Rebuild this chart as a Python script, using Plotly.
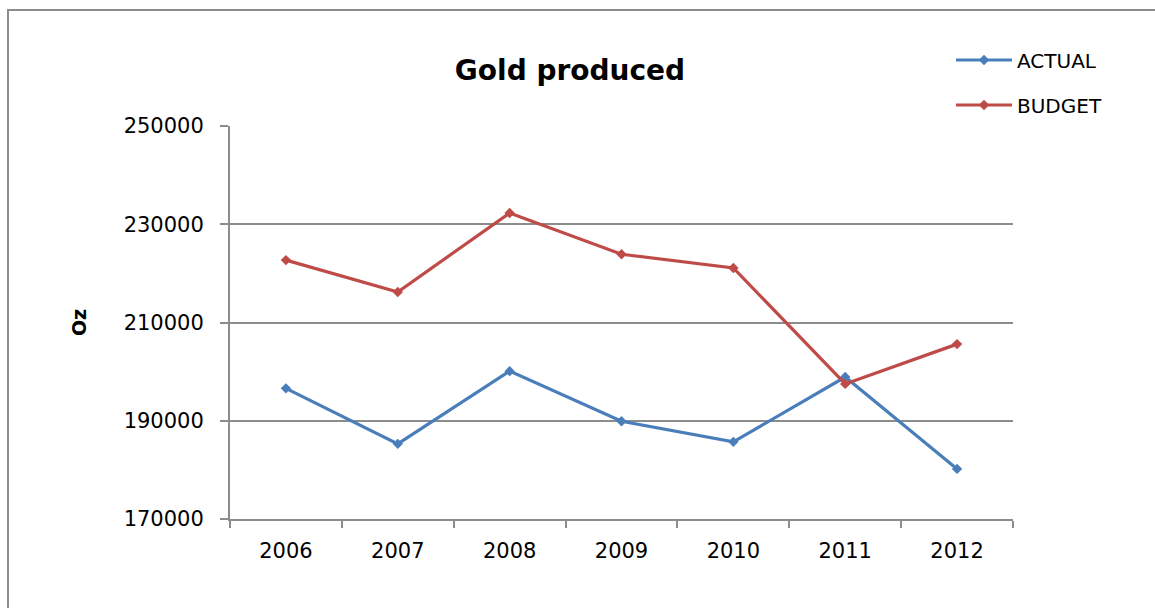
import plotly.graph_objects as go

years = ["2006", "2007", "2008", "2009", "2010", "2011", "2012"]
actual = [196600, 185300, 200100, 189900, 185700, 198900, 180200]
budget = [222700, 216200, 232300, 223900, 221100, 197500, 205600]
y_ticks = [170000, 190000, 210000, 230000, 250000]
y_tick_text = ["170000", "190000", "210000", "230000", "250000"]

W, H = 1155, 608
L, R, T, B = 230, 1013, 126, 519

FONT = "DejaVu Sans, sans-serif"

fig = go.Figure()
fig.add_trace(go.Scatter(x=years, y=actual, name="ACTUAL", mode="lines+markers",
                         line=dict(color="#4a7ebb", width=3.2),
                         marker=dict(symbol="diamond", size=8, color="#4a7ebb"),
                         legend="legend"))
fig.add_trace(go.Scatter(x=years, y=budget, name="BUDGET", mode="lines+markers",
                         line=dict(color="#be4b48", width=3.2),
                         marker=dict(symbol="diamond", size=8, color="#be4b48"),
                         legend="legend2"))

pw = R - L
ph = B - T
fig.add_shape(type="rect", xref="paper", yref="paper",
              x0=(8 - L) / pw, x1=(1165 - L) / pw,
              y0=(B - 620) / ph, y1=(B - 10) / ph,
              line=dict(color="#8c8c8c", width=2), layer="below")

legend_common = dict(xanchor="left", yanchor="middle", bgcolor="rgba(0,0,0,0)",
                     font=dict(size=20, family=FONT), itemwidth=56)

fig.update_layout(
    width=W, height=H,
    margin=dict(l=L, r=W - R, t=T, b=H - B),
    paper_bgcolor="white", plot_bgcolor="white",
    font=dict(family=FONT, size=21, color="black"),
    title=dict(text="<b>Gold produced</b>", x=570 / W, xanchor="center",
               y=1 - 70 / H, yanchor="middle", font=dict(size=28, family=FONT)),
    showlegend=True,
    legend=dict(x=(951 - L) / pw, y=(B - 60) / ph, **legend_common),
    legend2=dict(x=(951 - L) / pw, y=(B - 105) / ph, **legend_common),
    xaxis=dict(type="category", showgrid=False, showline=True, linecolor="#8c8c8c",
               linewidth=2, ticks="outside", tickson="boundaries", ticklen=7,
               tickcolor="#8c8c8c", tickwidth=2, ticklabelstandoff=12,
               tickfont=dict(size=21), range=[-0.5, 6.5]),
    yaxis=dict(range=[170000, 250000], tickvals=y_ticks, ticktext=y_tick_text,
               showgrid=True, gridcolor="#8c8c8c", gridwidth=1.5, showline=True,
               linecolor="#8c8c8c", linewidth=2, ticks="outside", ticklen=8,
               tickcolor="#8c8c8c", tickwidth=2, ticklabelstandoff=12,
               tickfont=dict(size=21), zeroline=False,
               title=dict(text="<b>Oz</b>", font=dict(size=19), standoff=32)),
)
fig.write_html("out.html")
